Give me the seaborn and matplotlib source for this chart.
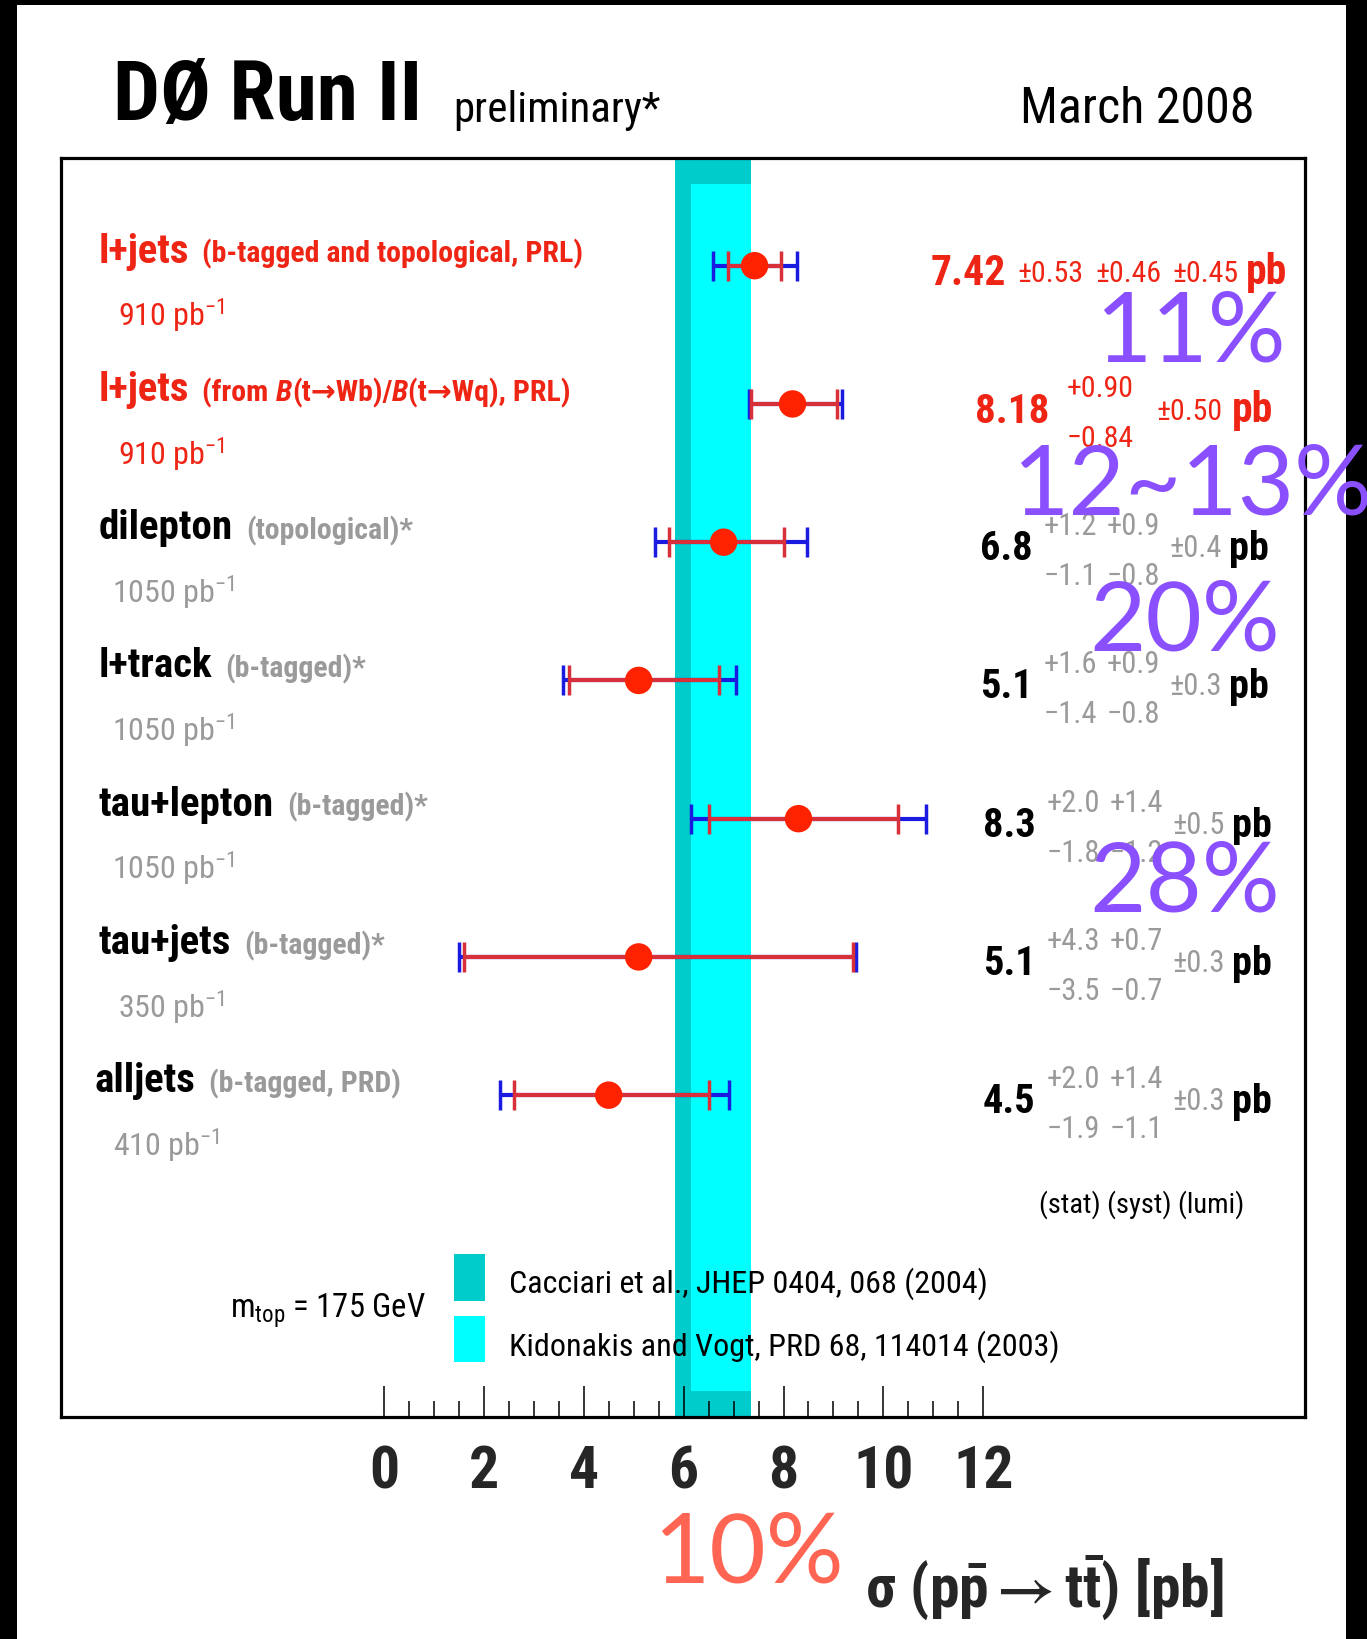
import re
import numpy as np
import pandas as pd
import matplotlib
matplotlib.use("Agg")
import matplotlib.pyplot as plt
import seaborn as sns
from matplotlib import font_manager as fm
from matplotlib.patches import Rectangle
from matplotlib.ticker import FixedLocator, NullFormatter

# ---------------- data ----------------
channels = ["l+jets", "l+jets", "dilepton", "l+track", "tau+lepton", "tau+jets", "alljets"]
details = ["(b-tagged and topological, PRL)", "(from B(t\u2192Wb)/B(t\u2192Wq), PRL)",
           "(topological)*", "(b-tagged)*", "(b-tagged)*", "(b-tagged)*", "(b-tagged, PRD)"]
lumis = ["910", "910", "1050", "1050", "1050", "350", "410"]
published = [True, True, False, False, False, False, False]
xsec = [7.42, 8.18, 6.8, 5.1, 8.3, 5.1, 4.5]
xsec_txt = ["7.42", "8.18", "6.8", "5.1", "8.3", "5.1", "4.5"]
stat_lo = [0.53, 0.84, 1.1, 1.4, 1.8, 3.5, 1.9]
stat_hi = [0.53, 0.90, 1.2, 1.6, 2.0, 4.3, 2.0]
stat_lo_txt = ["0.53", "0.84", "1.1", "1.4", "1.8", "3.5", "1.9"]
stat_hi_txt = ["0.53", "0.90", "1.2", "1.6", "2.0", "4.3", "2.0"]
syst_lo_txt = ["0.46", "", "0.8", "0.8", "1.2", "0.7", "1.1"]
syst_hi_txt = ["0.46", "", "0.9", "0.9", "1.4", "0.7", "1.4"]
lumi_err_txt = ["0.45", "0.50", "0.4", "0.3", "0.5", "0.3", "0.3"]
# outer (blue) error bar end points
total_lo_end = [6.58, 7.30, 5.42, 3.58, 6.14, 1.51, 2.32]
total_hi_end = [8.26, 9.18, 8.46, 7.04, 10.85, 9.45, 6.91]
# theory bands (pb)
cacciari_band = [5.83, 7.35]
kidonakis_band = [6.15, 7.35]
xticks = [0, 2, 4, 6, 8, 10, 12]
overlay_labels = ["11%", "12~13%", "20%", "28%", "10%"]

# ---------------- style ----------------
sns.set_theme(style="white")
names = {f.name for f in fm.fontManager.ttflist}
NARROW = None
for cand in ["Liberation Sans Narrow", "Arial Narrow", "Roboto Condensed", "Liberation Sans"]:
    if cand in names:
        NARROW = cand
        break
K = 1.0 if NARROW != "Liberation Sans" else 0.84
FAM = [NARROW, "DejaVu Sans"]
plt.rcParams["font.family"] = FAM
plt.rcParams["mathtext.fontset"] = "custom"
plt.rcParams["mathtext.rm"] = NARROW
plt.rcParams["mathtext.it"] = NARROW + ":italic"
plt.rcParams["mathtext.bf"] = NARROW + ":bold"
plt.rcParams["mathtext.fallback"] = "stixsans"

W, H = 1367, 1640
fig = plt.figure(figsize=(W / 100, H / 100), dpi=100)
fig.patch.set_facecolor("white")

ax_l, ax_r, ax_t, ax_b = 61, 1305, 159, 1418
ax = fig.add_axes([ax_l / W, 1 - ax_b / H, (ax_r - ax_l) / W, (ax_b - ax_t) / H])
ax.set_facecolor("white")

RED_TXT = "#ee2414"
RED_PT = "#ff2200"
RED_LINE = "#d8303a"
BLUE = "#1a1ae0"
GRAY = "#9a9a9a"
CYAN_D = "#00cccc"
CYAN_L = "#00ffff"

nrow = len(xsec)
rows = np.arange(nrow)
df = pd.DataFrame({"channel": channels, "xsec": xsec, "row": rows})

# bands
ax.axvspan(cacciari_band[0], cacciari_band[1], color=CYAN_D, lw=0, zorder=0)
ax.axvspan(kidonakis_band[0], kidonakis_band[1], ymin=0.0207, ymax=0.979, color=CYAN_L, lw=0, zorder=0.1)

# error bars
ax.errorbar(df["xsec"], df["row"],
            xerr=[np.array(xsec) - np.array(total_lo_end), np.array(total_hi_end) - np.array(xsec)],
            fmt="none", ecolor=BLUE, elinewidth=3.0, capsize=11, capthick=2.5, zorder=3)
ax.errorbar(df["xsec"], df["row"], xerr=[stat_lo, stat_hi],
            fmt="none", ecolor=RED_LINE, elinewidth=3.0, capsize=11, capthick=2.5, zorder=4)
sns.scatterplot(data=df, x="xsec", y="row", color=RED_PT, s=390, edgecolor="none",
                legend=False, ax=ax, zorder=5)

# axes cosmetics
ax.set_xlim(-6.465, 18.44)
ax.set_ylim(8.328, -0.779)
ax.set_yticks([])
ax.set_ylabel("")
ax.set_xticks(xticks)
ax.set_xticklabels([str(t) for t in xticks], fontsize=43 * K, fontweight="bold", family=FAM)
minors = [v for v in np.arange(0, 12.01, 0.5) if v not in xticks]
ax.xaxis.set_minor_locator(FixedLocator(minors))
ax.xaxis.set_minor_formatter(NullFormatter())
ax.tick_params(axis="x", which="major", direction="in", length=22, width=1.1, color="black",
               pad=19, bottom=True, top=False)
ax.tick_params(axis="x", which="minor", direction="in", length=11.5, width=1.1, color="black",
               bottom=True, top=False)
for sp in ax.spines.values():
    sp.set_visible(True)
    sp.set_color("black")
    sp.set_linewidth(2.3)

ax.set_xlabel(r"$\mathbf{\sigma\ (p\bar{p}\rightarrow t\bar{t})\ [pb]}$",
              fontsize=43 * K, fontweight="bold")
ax.xaxis.label.set_va("center")
ax.xaxis.set_label_coords((1044 - ax_l) / (ax_r - ax_l), -(1588 - ax_b) / (ax_b - ax_t))

# ---------------- helpers ----------------
def ftext(x, y, s, **kw):
    kw.setdefault("va", "baseline")
    kw.setdefault("ha", "left")
    return fig.text(x / W, 1 - y / H, s, **kw)

renderer = fig.canvas.get_renderer()

def runs(x, y, parts):
    for txt, kw, gap in parts:
        t = ftext(x, y, txt, **kw)
        bb = t.get_window_extent(renderer=renderer)
        x = bb.x1 + gap

def row_y(i):
    return H - ax.transData.transform((0, i))[1]

# ---------------- header ----------------
ftext(113, 120, "D\u00d8 Run II", fontsize=60 * K, fontweight="bold", color="black")
ftext(453, 122, "preliminary*", fontsize=31 * K, color="black")
ftext(1020, 123, "March 2008", fontsize=36 * K, color="black")

# ---------------- row labels ----------------
title_x = [99, 99, 99, 99, 99, 99, 95]
lumi_x = [118, 118, 112, 112, 112, 118, 113]
for i in range(nrow):
    y = row_y(i)
    c1 = RED_TXT if published[i] else "black"
    c2 = RED_TXT if published[i] else GRAY
    parts = [(channels[i], dict(fontsize=29.5 * K, fontweight="bold", color=c1), 13)]
    pieces = re.split(r"(B)(?=\()", details[i])
    for p in pieces:
        if not p:
            continue
        if p == "B":
            parts.append((p, dict(fontsize=21.5 * K, fontweight="bold", style="italic", color=c2), 0))
        else:
            parts.append((p, dict(fontsize=21.5 * K, fontweight="bold", color=c2), 0))
    runs(title_x[i], y - 4, parts)
    ftext(lumi_x[i], y + 60, lumis[i] + r" pb$^{-1}$", fontsize=23 * K, color=c2)

# ---------------- values column ----------------
for i in range(nrow):
    y = row_y(i)
    if i == 0:
        ftext(931, y + 18, xsec_txt[i], fontsize=30 * K, fontweight="bold", color=RED_TXT)
        for xx, s in zip([1017, 1095, 1172], [stat_lo_txt[i], syst_lo_txt[i], lumi_err_txt[i]]):
            ftext(xx, y + 15, "\u00b1" + s, fontsize=21.5 * K, color=RED_TXT)
        ftext(1246, y + 17, "pb", fontsize=30 * K, fontweight="bold", color=RED_TXT)
    elif i == 1:
        ftext(975, y + 18, xsec_txt[i], fontsize=29.5 * K, fontweight="bold", color=RED_TXT)
        ftext(1067, y - 8, "+" + stat_hi_txt[i], fontsize=21.5 * K, color=RED_TXT)
        ftext(1067, y + 42, "\u2212" + stat_lo_txt[i], fontsize=21.5 * K, color=RED_TXT)
        ftext(1156, y + 15, "\u00b1" + lumi_err_txt[i], fontsize=21.5 * K, color=RED_TXT)
        ftext(1232, y + 17, "pb", fontsize=30 * K, fontweight="bold", color=RED_TXT)
    else:
        d = 3 if i >= 4 else 0
        ftext(980 + d, y + 17, xsec_txt[i], fontsize=29 * K, fontweight="bold", color="black")
        ftext(1044 + d, y - 8, "+" + stat_hi_txt[i], fontsize=22 * K, color=GRAY)
        ftext(1107 + d, y - 8, "+" + syst_hi_txt[i], fontsize=22 * K, color=GRAY)
        ftext(1044 + d, y + 42, "\u2212" + stat_lo_txt[i], fontsize=22 * K, color=GRAY)
        ftext(1107 + d, y + 42, "\u2212" + syst_lo_txt[i], fontsize=22 * K, color=GRAY)
        ftext(1169 + d, y + 14, "\u00b1" + lumi_err_txt[i], fontsize=22 * K, color=GRAY)
        ftext(1229 + d, y + 17, "pb", fontsize=29 * K, fontweight="bold", color="black")

ftext(1039, 1213, "(stat) (syst) (lumi)", fontsize=20.5 * K, color="black")

# ---------------- legend ----------------
fig.add_artist(Rectangle((454 / W, 1 - 1302 / H), 31 / W, 47 / H, transform=fig.transFigure,
                         facecolor=CYAN_D, edgecolor="none", zorder=1))
fig.add_artist(Rectangle((454 / W, 1 - 1363 / H), 31 / W, 46 / H, transform=fig.transFigure,
                         facecolor=CYAN_L, edgecolor="none", zorder=1))
ftext(509, 1293, "Cacciari et al., JHEP 0404, 068 (2004)", fontsize=23 * K, color="black")
ftext(509, 1356, "Kidonakis and Vogt, PRD 68, 114014 (2003)", fontsize=23 * K, color="black")
ftext(230, 1318, r"m$_{\rm top}$ = 175 GeV", fontsize=23.5 * K, color="black")

# ---------------- black frame of the picture ----------------
for (x0, y0, w, h) in [(0, 0, 17, H), (0, 0, W, 6), (1346, 0, W - 1346, H)]:
    fig.add_artist(Rectangle((x0 / W, 1 - (y0 + h) / H), w / W, h / H, transform=fig.transFigure,
                             facecolor="black", edgecolor="none", zorder=2))

# ---------------- overlay annotations ----------------
PURPLE = "#8a50ff"
ANN_FAM = ["Lato", "DejaVu Sans"]
ann_pos = [(1190, 361, PURPLE), (1192, 515, PURPLE), (1185, 651, PURPLE), (1185, 912, PURPLE),
           (748, 1583, "#ff6552")]
for lab, (cx, by, col) in zip(overlay_labels, ann_pos):
    fig.text(cx / W, 1 - by / H, lab, fontsize=70, color=col, family=ANN_FAM,
             ha="center", va="baseline", zorder=10)

fig.savefig("out.png", dpi=100, facecolor="white")
